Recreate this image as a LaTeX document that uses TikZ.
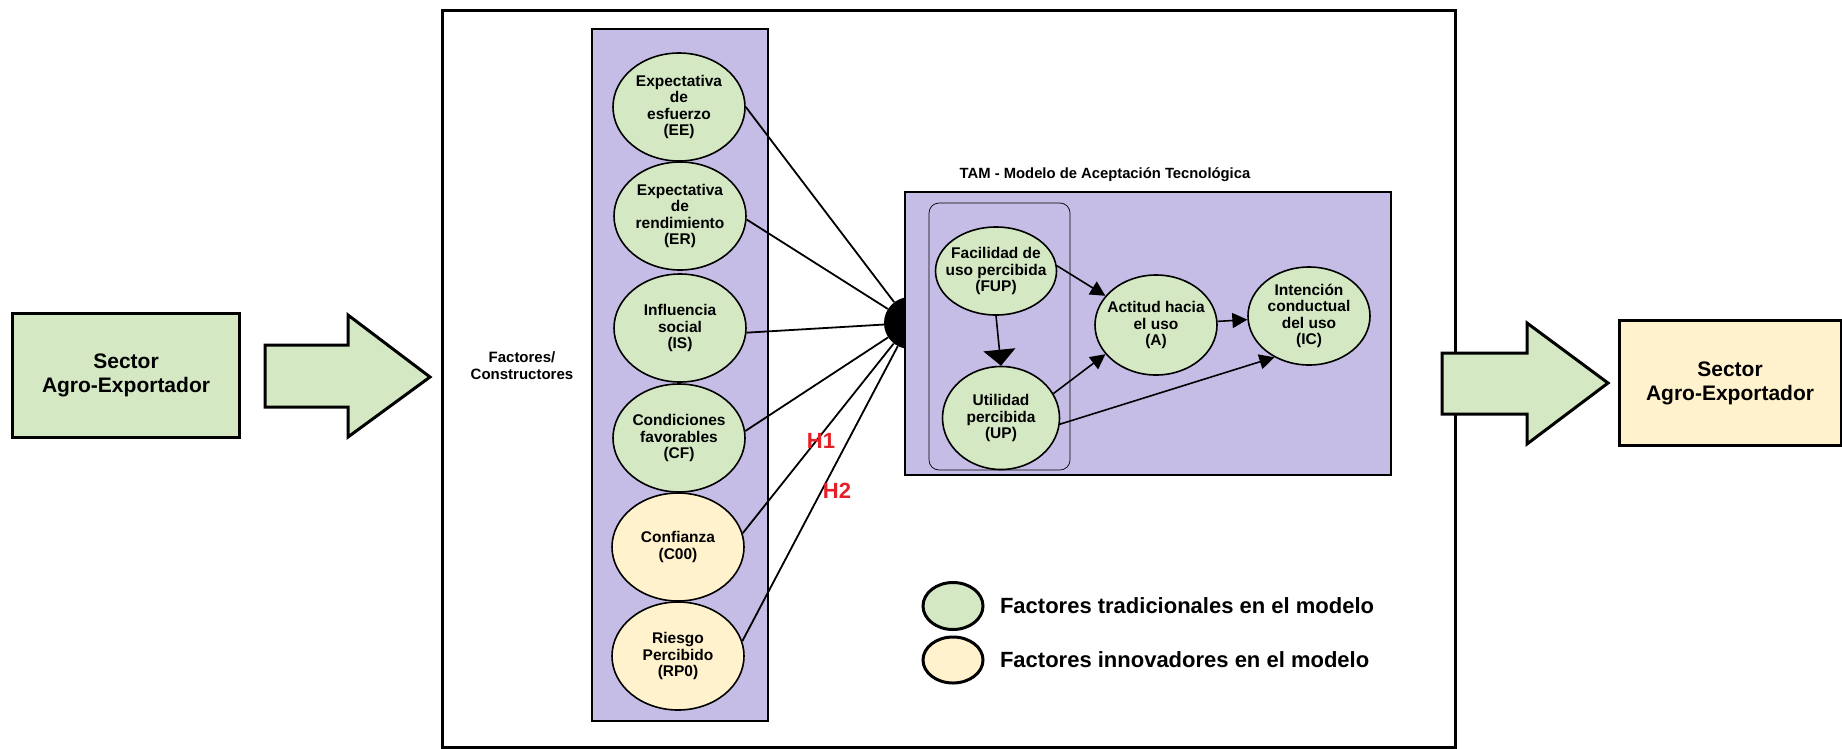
\documentclass[tikz,border=0pt]{standalone}
\usepackage{fontspec}
\setmainfont{Liberation Sans}
\usepackage{tikz}
\usetikzlibrary{positioning,shapes,arrows.meta}

\definecolor{agrogreen}{RGB}{213,232,196}
\definecolor{agroyellow}{RGB}{255,242,204}
\definecolor{factpurple}{RGB}{197,189,229}
\definecolor{hypred}{RGB}{228,32,40}

\tikzset{
  factor/.style={ellipse, draw, line width=1.6pt, fill=agrogreen, inner sep=-10pt,
    minimum width=132pt, minimum height=108pt, align=center,
    font=\fontsize{15.5}{16.5}\selectfont\bfseries},
  newfactor/.style={factor, fill=agroyellow},
  sectorbox/.style={rectangle, draw, line width=3pt, align=center,
    font=\fontsize{21}{24}\selectfont\bfseries},
  fatarrow/.style={draw, line width=3pt, fill=agrogreen, line join=miter},
  hubline/.style={line width=1.8pt},
  tamarrow/.style={line width=1.6pt, -{Triangle[length=15pt,width=15pt]}},
  legendtext/.style={anchor=west, font=\fontsize{22}{24}\selectfont\bfseries},
  hyplabel/.style={text=hypred, font=\fontsize{22}{24}\selectfont\bfseries}
}

\begin{document}
\begin{tikzpicture}[x=1pt,y=-1pt]
\useasboundingbox (0,0) rectangle (1842,748);

% marco principal
\draw[line width=3pt] (442,10) rectangle (1455,747);

% columna de factores
\draw[line width=2pt, fill=factpurple] (592,29) rectangle (768,721);
\node[align=center, font=\fontsize{15}{17}\selectfont\bfseries] (fclabel) at (522,366) {Factores/\\Constructores};

\node[factor] (EE) at (679,107) {Expectativa\\de\\esfuerzo\\(EE)};
\node[factor] (ER) at (680,216) {Expectativa\\de\\rendimiento\\(ER)};
\node[factor] (IS) at (680,328) {Influencia\\social\\(IS)};
\node[factor] (CF) at (679,438) {Condiciones\\favorables\\(CF)};
\node[newfactor] (C00) at (678,547) {Confianza\\(C00)};
\node[newfactor] (RP0) at (678,656) {Riesgo\\Percibido\\(RP0)};

% conexiones hacia el TAM
\node[circle, fill=black, minimum size=52pt, inner sep=0pt] (hub) at (910,323) {};
\foreach \f/\a in {EE/0, ER/-3, IS/-4, CF/6, C00/12, RP0/13}
  \draw[hubline] (\f.\a) -- (hub);

\node[hyplabel] (H1) at (821,441) {H1};
\node[hyplabel] (H2) at (837,491) {H2};

% TAM
\node[rectangle, draw, line width=2.2pt, fill=factpurple, minimum width=486pt, minimum height=283pt] (tam) at (1148,333.5) {};
\node[font=\fontsize{14.8}{16}\selectfont\bfseries] (tamtitle) at (1105,175) {TAM - Modelo de Aceptación Tecnológica};
\draw[rounded corners=10pt, line width=0.7pt] (929,203) rectangle (1070,470);

\node[factor, minimum width=121pt, minimum height=88pt] (FUP) at (996,271) {Facilidad de\\uso percibida\\(FUP)};
\node[factor, minimum width=117pt, minimum height=103pt] (UP) at (1001,418) {Utilidad\\percibida\\(UP)};
\node[factor, minimum width=122pt, minimum height=100pt] (A) at (1156,325) {Actitud hacia\\el uso\\(A)};
\node[factor, minimum width=122pt, minimum height=98pt] (IC) at (1309,316) {Intención\\conductual\\del uso\\(IC)};

\draw[tamarrow] (FUP.5) -- (A.150);
\draw[line width=1.6pt, -{Triangle[length=16pt,width=32pt]}] (FUP.south) -- (UP.north);
\draw[tamarrow] (UP.25) -- (A.210);
\draw[tamarrow] (A) -- (IC);
\draw[tamarrow] (UP.-6) -- (IC.230);

% leyenda
\node[ellipse, draw, line width=3pt, fill=agrogreen, minimum width=60pt, minimum height=47pt] (legG) at (953,606) {};
\node[ellipse, draw, line width=3pt, fill=agroyellow, minimum width=60pt, minimum height=46pt] (legY) at (953,660) {};
\node[legendtext, right=12pt of legG] (legGtext) {Factores tradicionales en el modelo};
\node[legendtext, right=12pt of legY] (legYtext) {Factores innovadores en el modelo};

% sector de entrada y salida
\node[sectorbox, fill=agrogreen, minimum width=227pt, minimum height=124pt] (sectorIn) at (126,375) {Sector\\Agro-Exportador};
\draw[fatarrow] (265,345) -- (348,345) -- (348,315) -- (430,377) -- (348,437) -- (348,407) -- (265,407) -- cycle;
\draw[fatarrow] (1442,353) -- (1527,353) -- (1527,323) -- (1608,383) -- (1527,444) -- (1527,414) -- (1442,414) -- cycle;
\node[sectorbox, fill=agroyellow, minimum width=222pt, minimum height=125pt] (sectorOut) at (1730,383) {Sector\\Agro-Exportador};
\end{tikzpicture}
\end{document}
